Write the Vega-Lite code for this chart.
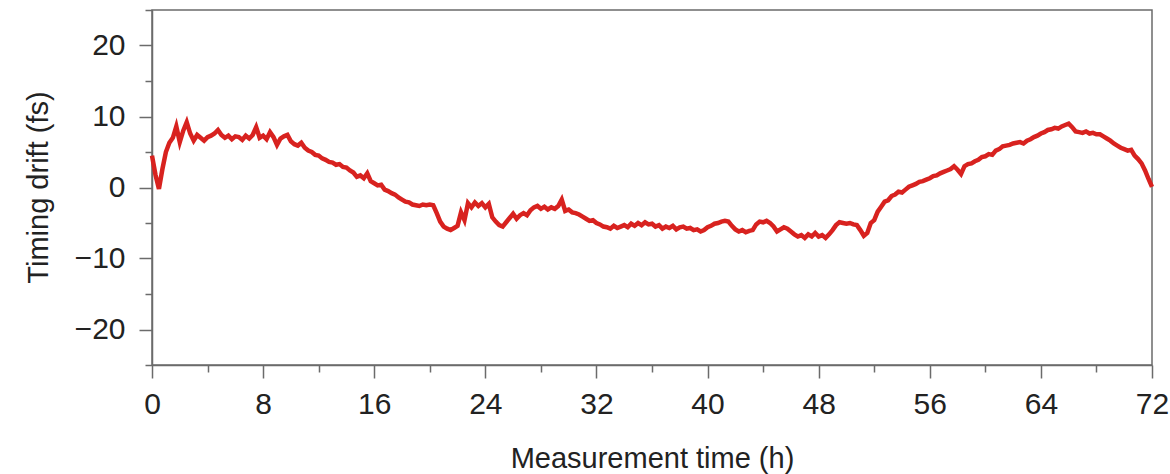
{
  "$schema": "https://vega.github.io/schema/vega-lite/v6.json",
  "width": 1000,
  "height": 355,
  "autosize": "none",
  "padding": {"left": 152, "top": 10, "right": 18, "bottom": 109},
  "background": "white",
  "config": {
    "view": {"stroke": "#6b6b6b", "strokeWidth": 1.5},
    "font": "Liberation Sans, Arial, sans-serif",
    "axis": {
      "grid": false,
      "domainColor": "#6b6b6b",
      "domainWidth": 1.5,
      "tickColor": "#6b6b6b",
      "tickWidth": 1.5,
      "labelColor": "#222222",
      "labelFont": "Liberation Sans, Arial, sans-serif",
      "titleFont": "Liberation Sans, Arial, sans-serif",
      "titleColor": "#222222",
      "titleFontWeight": "normal"
    }
  },
  "layer": [
    {
      "mark": {"type": "rect", "color": "#fcfcf0"},
      "encoding": {
        "x": {"datum": 0, "type": "quantitative", "scale": {"domain": [0, 72], "nice": false, "zero": false},
          "axis": {"orient": "bottom", "values": [4, 12, 20, 28, 36, 44, 52, 60, 68], "tickSize": 7, "labels": false, "domain": false, "title": null}},
        "x2": {"datum": 72},
        "y": {"datum": 9.7, "type": "quantitative", "scale": {"domain": [-25, 25], "nice": false, "zero": false},
          "axis": {"orient": "left", "values": [-25, -15, -5, 5, 15, 25], "tickSize": 7, "labels": false, "domain": false, "title": null}},
        "y2": {"datum": -7.9}
      }
    },
    {
      "data": {"values": [
        {"t":0,"v":4.5},{"t":0.25,"v":1.8},{"t":0.5,"v":-0.2},{"t":0.75,"v":2.6},{"t":1,"v":5.0},{"t":1.25,"v":6.3},{"t":1.5,"v":7.0},{"t":1.75,"v":8.6},
        {"t":2,"v":6.4},{"t":2.25,"v":8.0},{"t":2.5,"v":9.2},{"t":2.75,"v":7.6},{"t":3,"v":6.6},{"t":3.25,"v":7.4},{"t":3.5,"v":7.0},{"t":3.75,"v":6.6},
        {"t":4,"v":7.1},{"t":4.25,"v":7.3},{"t":4.5,"v":7.6},{"t":4.75,"v":8.1},{"t":5,"v":7.4},{"t":5.25,"v":7.0},{"t":5.5,"v":7.3},{"t":5.75,"v":6.8},
        {"t":6,"v":7.2},{"t":6.25,"v":7.1},{"t":6.5,"v":6.7},{"t":6.75,"v":7.3},{"t":7,"v":6.9},{"t":7.25,"v":7.4},{"t":7.5,"v":8.5},{"t":7.75,"v":7.0},
        {"t":8,"v":7.3},{"t":8.25,"v":6.8},{"t":8.5,"v":7.8},{"t":8.75,"v":7.1},{"t":9,"v":6.0},{"t":9.25,"v":6.9},{"t":9.5,"v":7.2},{"t":9.75,"v":7.4},
        {"t":10,"v":6.5},{"t":10.25,"v":6.1},{"t":10.5,"v":5.9},{"t":10.75,"v":6.3},{"t":11,"v":5.6},{"t":11.25,"v":5.2},{"t":11.5,"v":5.0},{"t":11.75,"v":4.6},
        {"t":12,"v":4.5},{"t":12.25,"v":4.1},{"t":12.5,"v":3.9},{"t":12.75,"v":3.6},{"t":13,"v":3.5},{"t":13.25,"v":3.2},{"t":13.5,"v":3.3},{"t":13.75,"v":2.9},
        {"t":14,"v":2.8},{"t":14.25,"v":2.4},{"t":14.5,"v":2.1},{"t":14.75,"v":1.5},{"t":15,"v":1.7},{"t":15.25,"v":1.3},{"t":15.5,"v":2.0},{"t":15.75,"v":0.9},
        {"t":16,"v":0.6},{"t":16.25,"v":0.3},{"t":16.5,"v":0.4},{"t":16.75,"v":-0.3},{"t":17,"v":-0.5},{"t":17.25,"v":-0.8},{"t":17.5,"v":-1.0},{"t":17.75,"v":-1.4},
        {"t":18,"v":-1.7},{"t":18.25,"v":-2.0},{"t":18.5,"v":-2.1},{"t":18.75,"v":-2.4},{"t":19,"v":-2.5},{"t":19.25,"v":-2.6},{"t":19.5,"v":-2.4},{"t":19.75,"v":-2.5},
        {"t":20,"v":-2.4},{"t":20.25,"v":-2.5},{"t":20.5,"v":-3.6},{"t":20.75,"v":-4.8},{"t":21,"v":-5.5},{"t":21.25,"v":-5.8},{"t":21.5,"v":-6.0},{"t":21.75,"v":-5.7},
        {"t":22,"v":-5.4},{"t":22.25,"v":-3.5},{"t":22.5,"v":-4.6},{"t":22.75,"v":-2.2},{"t":23,"v":-2.8},{"t":23.25,"v":-2.1},{"t":23.5,"v":-2.6},{"t":23.75,"v":-2.2},
        {"t":24,"v":-2.8},{"t":24.25,"v":-2.3},{"t":24.5,"v":-4.2},{"t":24.75,"v":-4.8},{"t":25,"v":-5.3},{"t":25.25,"v":-5.5},{"t":25.5,"v":-4.9},{"t":25.75,"v":-4.3},
        {"t":26,"v":-3.7},{"t":26.25,"v":-4.4},{"t":26.5,"v":-3.9},{"t":26.75,"v":-3.6},{"t":27,"v":-3.9},{"t":27.25,"v":-3.2},{"t":27.5,"v":-2.8},{"t":27.75,"v":-2.6},
        {"t":28,"v":-3.0},{"t":28.25,"v":-2.7},{"t":28.5,"v":-3.1},{"t":28.75,"v":-2.8},{"t":29,"v":-3.0},{"t":29.25,"v":-2.6},{"t":29.5,"v":-1.7},{"t":29.75,"v":-3.3},
        {"t":30,"v":-3.1},{"t":30.25,"v":-3.5},{"t":30.5,"v":-3.6},{"t":30.75,"v":-3.8},{"t":31,"v":-4.1},{"t":31.25,"v":-4.4},{"t":31.5,"v":-4.7},{"t":31.75,"v":-4.6},
        {"t":32,"v":-5.0},{"t":32.25,"v":-5.2},{"t":32.5,"v":-5.5},{"t":32.75,"v":-5.6},{"t":33,"v":-5.8},{"t":33.25,"v":-5.4},{"t":33.5,"v":-5.7},{"t":33.75,"v":-5.5},
        {"t":34,"v":-5.3},{"t":34.25,"v":-5.6},{"t":34.5,"v":-5.1},{"t":34.75,"v":-5.4},{"t":35,"v":-5.0},{"t":35.25,"v":-5.3},{"t":35.5,"v":-4.9},{"t":35.75,"v":-5.2},
        {"t":36,"v":-5.1},{"t":36.25,"v":-5.5},{"t":36.5,"v":-5.3},{"t":36.75,"v":-5.8},{"t":37,"v":-5.5},{"t":37.25,"v":-5.7},{"t":37.5,"v":-5.4},{"t":37.75,"v":-5.9},
        {"t":38,"v":-5.6},{"t":38.25,"v":-5.5},{"t":38.5,"v":-5.8},{"t":38.75,"v":-5.7},{"t":39,"v":-6.0},{"t":39.25,"v":-5.9},{"t":39.5,"v":-6.2},{"t":39.75,"v":-6.0},
        {"t":40,"v":-5.6},{"t":40.25,"v":-5.4},{"t":40.5,"v":-5.1},{"t":40.75,"v":-5.0},{"t":41,"v":-4.8},{"t":41.25,"v":-4.7},{"t":41.5,"v":-4.8},{"t":41.75,"v":-5.4},
        {"t":42,"v":-5.9},{"t":42.25,"v":-6.2},{"t":42.5,"v":-6.0},{"t":42.75,"v":-6.3},{"t":43,"v":-6.1},{"t":43.25,"v":-6.0},{"t":43.5,"v":-5.2},{"t":43.75,"v":-4.8},
        {"t":44,"v":-4.9},{"t":44.25,"v":-4.7},{"t":44.5,"v":-5.0},{"t":44.75,"v":-5.5},{"t":45,"v":-6.2},{"t":45.25,"v":-5.9},{"t":45.5,"v":-5.6},{"t":45.75,"v":-5.8},
        {"t":46,"v":-6.2},{"t":46.25,"v":-6.6},{"t":46.5,"v":-6.9},{"t":46.75,"v":-6.7},{"t":47,"v":-7.1},{"t":47.25,"v":-6.6},{"t":47.5,"v":-6.9},{"t":47.75,"v":-6.4},
        {"t":48,"v":-6.9},{"t":48.25,"v":-6.7},{"t":48.5,"v":-7.1},{"t":48.75,"v":-6.6},{"t":49,"v":-6.0},{"t":49.25,"v":-5.3},{"t":49.5,"v":-4.9},{"t":49.75,"v":-5.0},
        {"t":50,"v":-5.1},{"t":50.25,"v":-5.0},{"t":50.5,"v":-5.2},{"t":50.75,"v":-5.3},{"t":51,"v":-6.0},{"t":51.25,"v":-6.8},{"t":51.5,"v":-6.4},{"t":51.75,"v":-5.0},
        {"t":52,"v":-4.6},{"t":52.25,"v":-3.4},{"t":52.5,"v":-2.7},{"t":52.75,"v":-2.0},{"t":53,"v":-1.8},{"t":53.25,"v":-1.2},{"t":53.5,"v":-1.0},{"t":53.75,"v":-0.6},
        {"t":54,"v":-0.7},{"t":54.25,"v":-0.3},{"t":54.5,"v":0.1},{"t":54.75,"v":0.3},{"t":55,"v":0.5},{"t":55.25,"v":0.8},{"t":55.5,"v":0.9},{"t":55.75,"v":1.1},
        {"t":56,"v":1.3},{"t":56.25,"v":1.6},{"t":56.5,"v":1.7},{"t":56.75,"v":2.0},{"t":57,"v":2.2},{"t":57.25,"v":2.4},{"t":57.5,"v":2.6},{"t":57.75,"v":3.0},
        {"t":58,"v":2.5},{"t":58.25,"v":1.9},{"t":58.5,"v":3.0},{"t":58.75,"v":3.3},{"t":59,"v":3.4},{"t":59.25,"v":3.7},{"t":59.5,"v":3.9},{"t":59.75,"v":4.3},
        {"t":60,"v":4.4},{"t":60.25,"v":4.7},{"t":60.5,"v":4.6},{"t":60.75,"v":5.2},{"t":61,"v":5.4},{"t":61.25,"v":5.8},{"t":61.5,"v":5.9},{"t":61.75,"v":6.0},
        {"t":62,"v":6.2},{"t":62.25,"v":6.3},{"t":62.5,"v":6.4},{"t":62.75,"v":6.2},{"t":63,"v":6.6},{"t":63.25,"v":6.8},{"t":63.5,"v":7.1},{"t":63.75,"v":7.3},
        {"t":64,"v":7.6},{"t":64.25,"v":7.8},{"t":64.5,"v":8.1},{"t":64.75,"v":8.2},{"t":65,"v":8.4},{"t":65.25,"v":8.3},{"t":65.5,"v":8.6},{"t":65.75,"v":8.8},
        {"t":66,"v":9.0},{"t":66.25,"v":8.5},{"t":66.5,"v":7.9},{"t":66.75,"v":7.8},{"t":67,"v":7.7},{"t":67.25,"v":7.9},{"t":67.5,"v":7.6},{"t":67.75,"v":7.7},
        {"t":68,"v":7.5},{"t":68.25,"v":7.5},{"t":68.5,"v":7.2},{"t":68.75,"v":6.9},{"t":69,"v":6.6},{"t":69.25,"v":6.2},{"t":69.5,"v":5.9},{"t":69.75,"v":5.6},
        {"t":70,"v":5.4},{"t":70.25,"v":5.2},{"t":70.5,"v":5.3},{"t":70.75,"v":4.5},{"t":71,"v":4.0},{"t":71.25,"v":3.4},{"t":71.5,"v":2.4},{"t":71.75,"v":1.2},
        {"t":72,"v":0.1}
      ]},
      "mark": {"type": "line", "color": "#d8221f", "strokeWidth": 4.5, "strokeJoin": "miter"},
      "encoding": {
        "x": {"field": "t", "type": "quantitative",
          "axis": {"orient": "bottom", "values": [0, 8, 16, 24, 32, 40, 48, 56, 64, 72], "tickSize": 13, "labelFontSize": 30, "labelPadding": 11, "labelFlush": false,
            "title": "Measurement time (h)", "titleFontSize": 29, "titleBaseline": "alphabetic", "titleY": 102}},
        "y": {"field": "v", "type": "quantitative",
          "axis": {"orient": "left", "values": [-20, -10, 0, 10, 20], "tickSize": 13, "labelFontSize": 30, "labelPadding": 14,
            "title": "Timing drift (fs)", "titleFontSize": 29, "titleX": -99, "titleY": 177}}
      }
    }
  ],
  "resolve": {"axis": {"x": "independent", "y": "independent"}}
}
